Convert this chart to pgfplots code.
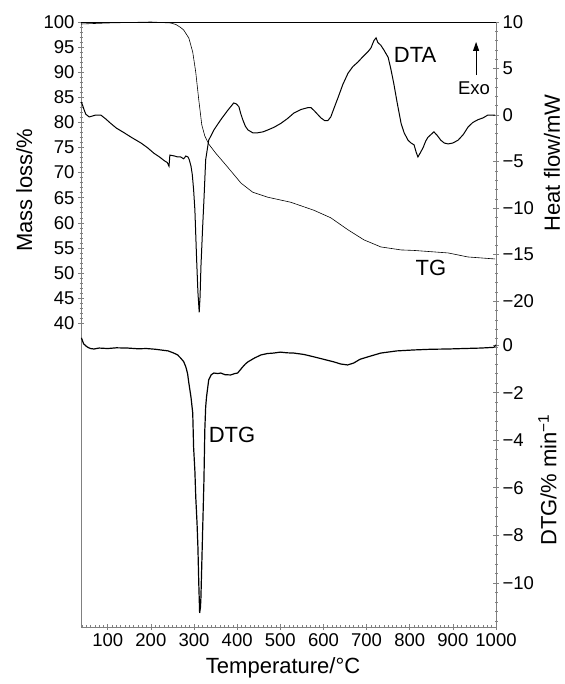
\documentclass[border=0pt]{standalone}
\usepackage{fontspec}
\setmainfont{Liberation Sans}
\usepackage{pgfplots}
\pgfplotsset{compat=1.18}
\usetikzlibrary{arrows.meta}

\pgfplotsset{
  tga/.style={
    scale only axis, width=415pt, height=605pt,
    at={(81pt,57pt)}, anchor=south west,
    xmin=38, xmax=1000,
    tick align=center,
    major tick length=6pt, minor tick length=3pt,
    every tick/.style={gray, line width=0.6pt},
    axis line style={-, gray, line width=0.8pt},
    ticklabel style={font=\fontsize{18.5}{20}\selectfont},
    /pgf/number format/assume math mode=true,
    /pgf/number format/1000 sep={},
    clip=false,
  },
}

\begin{document}
\begin{tikzpicture}
\path[use as bounding box] (0,0) rectangle (564pt,684pt);

% mass loss (TG), left axis, and temperature axis
\begin{axis}[tga,
  ymin=-20.5, ymax=100,
  axis x line*=bottom, axis y line*=left,
  xtick={100,200,...,1000}, minor xtick={40,50,...,990},
  ytick={40,45,...,100}, minor ytick={40,41,...,100},
]
\addplot[black, line width=0.6pt] coordinates {
(38,99.6) (100,99.8) (150,99.9) (200,100) (246,99.8) (258,99.5) (269,98.9)
(276,98.4) (288,96.8) (297,94.0) (304,90.0) (311,84.5) (318,79.5) (325,77.3)
(334,75.7) (350,73.9) (374,71.5) (409,67.9) (436,66.1) (471,65.1) (524,64.1)
(578,62.5) (617,61.0) (657,58.6) (694,56.6) (733,55.2) (780,54.6) (810,54.5)
(889,54.0) (935,53.2) (998,52.8)
};
\node[font=\fontsize{22}{24}\selectfont, rotate=90, inner sep=0pt] at (rel axis cs:-0.137,0.722) {Mass loss/\%};
\node[font=\fontsize{22}{24}\selectfont, rotate=90, inner sep=0pt] at (rel axis cs:1.135,0.767) {Heat flow/mW};
\node[font=\fontsize{22}{24}\selectfont, rotate=90, inner sep=0pt] at (rel axis cs:1.124,0.243) {DTG/\% min\textsuperscript{−1}};
\node[font=\fontsize{22}{24}\selectfont] at (rel axis cs:0.487,-0.068) {Temperature/°C};
\node[font=\fontsize{22}{24}\selectfont] at (rel axis cs:0.805,0.945) {DTA};
\node[font=\fontsize{18.5}{20}\selectfont] at (rel axis cs:0.947,0.891) {Exo};
\node[font=\fontsize{22}{24}\selectfont] at (rel axis cs:0.843,0.593) {TG};
\node[font=\fontsize{22}{24}\selectfont] at (rel axis cs:0.364,0.317) {DTG};
\draw[-{Triangle[length=9pt,width=6pt]}, line width=1pt] (rel axis cs:0.952,0.912) -- (rel axis cs:0.952,0.967);
\end{axis}

% heat flow (DTA), upper right axis
\begin{axis}[tga,
  ymin=-55, ymax=10,
  axis y line*=right, axis x line*=top,
  xtick=\empty, x axis line style={black},
  ytick={-20,-15,...,10}, yticklabels={−20,−15,−10,−5,0,5,10},
  minor ytick={-25,-24,...,10},
]
\addplot[black, line width=1pt] coordinates {
(39,1.4) (45,0.6) (49,0.1) (57,-0.2) (72,0.0) (84,0.0) (95,-0.4) (107,-0.9)
(120,-1.4) (138,-1.9) (155,-2.4) (177,-3.0) (192,-3.5) (207,-4.1) (220,-4.5)
(231,-4.9) (238,-5.1) (242,-5.5) (244,-4.3) (255,-4.4) (262,-4.5) (269,-4.5)
(276,-4.7) (281,-4.4) (286,-4.5) (289,-4.8) (293,-5.5) (296,-6.4) (299,-8.0)
(302,-10.2) (306,-15.5) (309,-19.0) (312,-21.2) (314,-19.5) (316,-16.3)
(320,-12.0) (323,-9.1) (327,-4.8) (334,-2.7) (346,-1.6) (362,-0.5) (378,0.5)
(392,1.3) (398,1.2) (404,0.9) (408,0.2) (413,-0.5) (419,-1.2) (425,-1.6)
(436,-1.9) (448,-1.9) (460,-1.8) (471,-1.6) (486,-1.3) (501,-0.9) (516,-0.4)
(531,0.2) (548,0.6) (564,0.8) (571,0.8) (578,0.5) (586,0.1) (594,-0.3)
(603,-0.6) (610,-0.6) (617,-0.2) (625,0.8) (634,1.9) (645,3.3) (657,4.5)
(668,5.2) (680,5.7) (692,6.3) (703,6.8) (710,7.2) (717,8.0) (722,8.3)
(726,7.8) (733,7.5) (740,7.0) (750,6.2) (756,5.0) (763,3.4) (771,1.3)
(780,-0.9) (787,-1.9) (796,-2.7) (803,-3.0) (810,-3.2) (815,-4.0) (819,-4.5)
(824,-4.1) (831,-3.5) (837,-2.8) (842,-2.4) (849,-2.1) (856,-1.8) (864,-2.2)
(872,-2.7) (880,-3.0) (889,-3.1) (900,-3.0) (912,-2.7) (924,-2.1) (935,-1.3)
(946,-0.8) (958,-0.5) (970,-0.3) (981,0.0) (998,0.0)
};
\end{axis}

% DTG, lower right axis
\begin{axis}[tga,
  ymin=-11.85, ymax=13.57,
  axis y line*=right, hide x axis,
  ytick={-10,-8,...,0}, yticklabels={−10,−8,−6,−4,−2,0},
  minor ytick={-11.6,-11.2,...,0},
]
\addplot[black, line width=1.2pt] coordinates {
(39,0.3) (44,0.05) (50,-0.05) (54,-0.1) (60,-0.15) (68,-0.17) (80,-0.13)
(100,-0.15) (120,-0.12) (146,-0.13) (170,-0.16) (190,-0.15) (210,-0.18)
(223,-0.21) (240,-0.25) (253,-0.34) (262,-0.42) (269,-0.55) (276,-0.7)
(281,-0.92) (285,-1.2) (288,-1.6) (293,-2.2) (297,-2.86) (299,-4.29)
(302,-5.3) (304,-6.39) (307,-7.5) (309,-8.49) (311,-10.0) (313,-11.26)
(315,-11.0) (316,-10.6) (318,-9.2) (320,-7.77) (323,-5.67) (325,-3.57)
(327,-2.6) (329,-2.18) (334,-1.47) (340,-1.25) (346,-1.18) (355,-1.2)
(362,-1.18) (372,-1.25) (385,-1.26) (395,-1.2) (401,-1.18) (407,-1.05)
(413,-0.92) (419,-0.8) (425,-0.71) (440,-0.55) (455,-0.42) (470,-0.36)
(485,-0.34) (500,-0.3) (515,-0.33) (531,-0.34) (555,-0.4) (578,-0.5)
(600,-0.6) (624,-0.71) (640,-0.8) (656,-0.84) (663,-0.8) (670,-0.76)
(685,-0.6) (703,-0.5) (718,-0.42) (733,-0.34) (770,-0.25) (809,-0.21)
(850,-0.18) (888,-0.17) (925,-0.15) (965,-0.13) (995,-0.1) (1000,0)
};
\end{axis}
\end{tikzpicture}
\end{document}
